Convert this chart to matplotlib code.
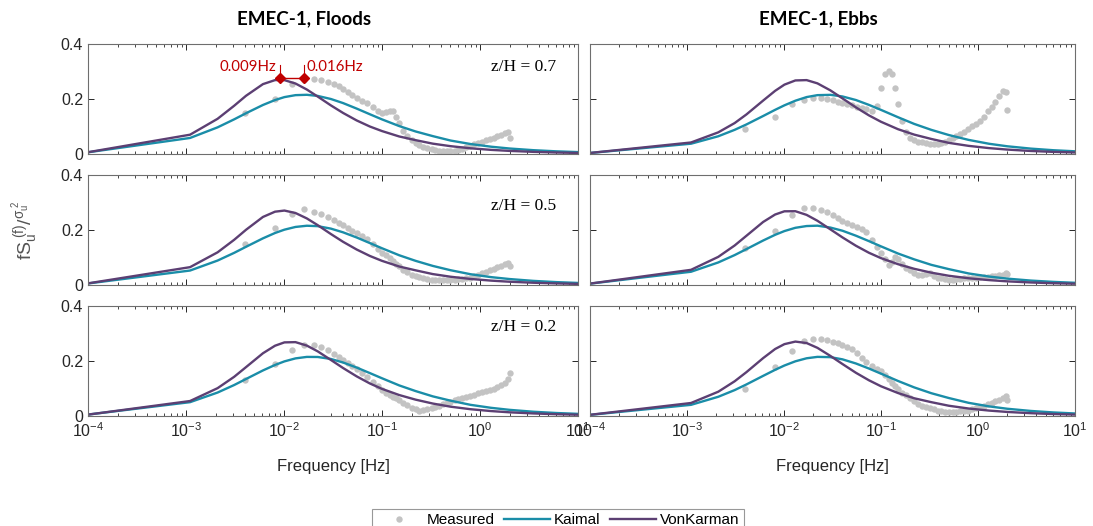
import matplotlib
matplotlib.use("Agg")
import matplotlib.pyplot as plt
from matplotlib.ticker import LogLocator, NullFormatter

plt.rcParams['font.family'] = ['Liberation Sans', 'DejaVu Sans']
plt.rcParams['mathtext.fontset'] = 'custom'
plt.rcParams['mathtext.rm'] = 'Liberation Sans'
plt.rcParams['mathtext.it'] = 'Liberation Sans:italic'

# frequency grid of the model spectra (Hz)
f_model = [1e-4, 1.1e-3, 2.1e-3, 3.1e-3, 4.1e-3, 6.1e-3, 8.1e-3, 0.0101, 0.0131,
           0.0171, 0.0221, 0.0301, 0.0401, 0.0551, 0.0751, 0.1, 0.15, 0.22, 0.33,
           0.5, 0.8, 1.3, 2.0, 3.5, 6.0, 10.0]

# Von Karman fits
vk_flood_07 = [0.0065, 0.0702, 0.128, 0.1754, 0.2118, 0.2541, 0.2687, 0.2686, 0.2563,
               0.2344, 0.2088, 0.1767, 0.1492, 0.1221, 0.1000, 0.0834, 0.0637, 0.0504,
               0.0376, 0.0285, 0.0208, 0.0150, 0.0113, 0.0078, 0.0054, 0.0039]
vk_flood_05 = [0.0060, 0.0649, 0.1188, 0.1643, 0.2009, 0.2475, 0.2666, 0.2707, 0.2618,
               0.2421, 0.2175, 0.1853, 0.1570, 0.1291, 0.1057, 0.0878, 0.0672, 0.0534,
               0.0397, 0.0301, 0.0220, 0.0159, 0.0119, 0.0082, 0.0057, 0.0041]
vk_flood_02 = [0.0050, 0.0545, 0.1012, 0.1425, 0.1778, 0.2282, 0.2556, 0.2677, 0.2686,
               0.2560, 0.2350, 0.2038, 0.1744, 0.1442, 0.1184, 0.0986, 0.0762, 0.0595,
               0.0453, 0.0339, 0.0247, 0.0179, 0.0134, 0.0093, 0.0065, 0.0046]
vk_ebb_07 = [0.0038, 0.0419, 0.0787, 0.1125, 0.1439, 0.1944, 0.2297, 0.2522, 0.2675,
             0.2687, 0.2569, 0.2313, 0.2021, 0.1696, 0.1404, 0.1172, 0.0901, 0.0705,
             0.0547, 0.0405, 0.0296, 0.0214, 0.0161, 0.0110, 0.0077, 0.0055]
vk_ebb_05 = [0.0051, 0.0552, 0.1023, 0.1437, 0.1790, 0.2293, 0.2563, 0.2680, 0.2683,
             0.2550, 0.2336, 0.2023, 0.1730, 0.1428, 0.1172, 0.0977, 0.0756, 0.0589,
             0.0449, 0.0336, 0.0245, 0.0178, 0.0133, 0.0092, 0.0064, 0.0046]
vk_ebb_02 = [0.0043, 0.0473, 0.0883, 0.1263, 0.1595, 0.2106, 0.2436, 0.2613, 0.2706,
             0.2653, 0.2479, 0.2184, 0.1889, 0.1572, 0.1299, 0.1081, 0.0834, 0.0645,
             0.0503, 0.0373, 0.0272, 0.0197, 0.0148, 0.0102, 0.0071, 0.0051]

# Kaimal fits
ka_flood_07 = [0.0062, 0.0583, 0.0969, 0.1260, 0.1483, 0.1783, 0.1962, 0.2069, 0.2140,
               0.2153, 0.2112, 0.2000, 0.1851, 0.1652, 0.1446, 0.1259, 0.1015, 0.0820,
               0.0650, 0.0490, 0.0363, 0.0265, 0.0200, 0.0139, 0.0097, 0.0069]
ka_flood_05 = [0.0055, 0.0526, 0.0889, 0.1169, 0.1390, 0.1697, 0.1891, 0.2012, 0.2111,
               0.2155, 0.2140, 0.2050, 0.1915, 0.1728, 0.1525, 0.1336, 0.1081, 0.0879,
               0.0694, 0.0538, 0.0392, 0.0286, 0.0217, 0.0150, 0.0105, 0.0075]
ka_flood_02 = [0.0052, 0.0503, 0.0853, 0.1126, 0.1346, 0.1657, 0.1856, 0.1986, 0.2095,
               0.2149, 0.2146, 0.2074, 0.1945, 0.1762, 0.1561, 0.1372, 0.1112, 0.0907,
               0.0714, 0.0558, 0.0406, 0.0297, 0.0224, 0.0155, 0.0109, 0.0078]
ka_ebb_07 = [0.0037, 0.0374, 0.0645, 0.0879, 0.1075, 0.1382, 0.1606, 0.1770, 0.1938,
             0.2070, 0.2140, 0.2151, 0.2092, 0.1963, 0.1786, 0.1604, 0.1336, 0.1094,
             0.0878, 0.0690, 0.0513, 0.0372, 0.0281, 0.0196, 0.0137, 0.0098]
ka_ebb_05 = [0.0049, 0.0482, 0.0820, 0.1088, 0.1305, 0.1618, 0.1825, 0.1961, 0.2080,
             0.2144, 0.2157, 0.2088, 0.1973, 0.1793, 0.1595, 0.1405, 0.1144, 0.0932,
             0.0733, 0.0577, 0.0420, 0.0307, 0.0232, 0.0161, 0.0113, 0.0080]
ka_ebb_02 = [0.0041, 0.0406, 0.0699, 0.0942, 0.1148, 0.1460, 0.1679, 0.1836, 0.1989,
             0.2099, 0.2150, 0.2140, 0.2060, 0.1910, 0.1726, 0.1540, 0.1273, 0.1040,
             0.0829, 0.0654, 0.0479, 0.0350, 0.0264, 0.0184, 0.0129, 0.0092]

# measured spectra
f_meas = [0.004, 0.008, 0.012, 0.016, 0.020, 0.024, 0.028, 0.032, 0.036, 0.040,
          0.045, 0.050, 0.056, 0.063, 0.070, 0.080, 0.090, 0.100, 0.110, 0.120,
          0.130, 0.140, 0.150, 0.165, 0.180, 0.200, 0.220, 0.240, 0.265, 0.290,
          0.320, 0.350, 0.385, 0.420, 0.460, 0.500, 0.550, 0.600, 0.660, 0.720,
          0.790, 0.870, 0.950, 1.050, 1.150, 1.260, 1.380, 1.500, 1.650, 1.800,
          1.950, 2.000]
meas_flood_07 = [0.150, 0.200, 0.255, 0.270, 0.272, 0.268, 0.262, 0.255, 0.246, 0.237,
                 0.226, 0.216, 0.205, 0.194, 0.184, 0.170, 0.157, 0.148, 0.152, 0.158,
                 0.155, 0.135, 0.112, 0.085, 0.066, 0.050, 0.040, 0.032, 0.026, 0.021,
                 0.018, 0.015, 0.012, 0.010, 0.010, 0.011, 0.012, 0.015, 0.020, 0.025,
                 0.030, 0.035, 0.040, 0.045, 0.050, 0.055, 0.060, 0.065, 0.070, 0.075,
                 0.080, 0.060]
meas_flood_05 = [0.150, 0.206, 0.260, 0.275, 0.265, 0.260, 0.248, 0.236, 0.227, 0.218,
                 0.208, 0.198, 0.188, 0.178, 0.168, 0.150, 0.132, 0.118, 0.108, 0.098,
                 0.088, 0.078, 0.068, 0.055, 0.046, 0.038, 0.032, 0.028, 0.024, 0.022,
                 0.020, 0.019, 0.018, 0.018, 0.018, 0.019, 0.020, 0.021, 0.022, 0.024,
                 0.027, 0.031, 0.036, 0.042, 0.048, 0.054, 0.060, 0.065, 0.070, 0.075,
                 0.080, 0.068]
meas_flood_02 = [0.130, 0.190, 0.240, 0.260, 0.260, 0.250, 0.240, 0.227, 0.215, 0.205,
                 0.192, 0.182, 0.170, 0.155, 0.142, 0.125, 0.110, 0.095, 0.085, 0.077,
                 0.070, 0.064, 0.058, 0.048, 0.040, 0.030, 0.024, 0.020, 0.022, 0.026,
                 0.030, 0.034, 0.038, 0.042, 0.047, 0.052, 0.057, 0.062, 0.066, 0.070,
                 0.074, 0.078, 0.082, 0.086, 0.090, 0.095, 0.100, 0.106, 0.112, 0.120,
                 0.135, 0.155]
meas_ebb_07 = [0.090, 0.135, 0.180, 0.195, 0.204, 0.203, 0.200, 0.195, 0.190, 0.186,
               0.181, 0.177, 0.172, 0.168, 0.163, 0.157, 0.175, 0.240, 0.290, 0.300,
               0.290, 0.240, 0.180, 0.120, 0.080, 0.060, 0.050, 0.045, 0.042, 0.040,
               0.038, 0.036, 0.037, 0.040, 0.045, 0.050, 0.058, 0.065, 0.072, 0.080,
               0.090, 0.100, 0.110, 0.120, 0.135, 0.155, 0.170, 0.190, 0.210, 0.230,
               0.225, 0.160]
meas_ebb_05 = [0.133, 0.198, 0.255, 0.279, 0.281, 0.273, 0.264, 0.255, 0.242, 0.234,
               0.226, 0.218, 0.210, 0.202, 0.194, 0.164, 0.138, 0.115, 0.095, 0.073,
               0.085, 0.103, 0.095, 0.075, 0.062, 0.055, 0.045, 0.038, 0.036, 0.040,
               0.042, 0.034, 0.027, 0.024, 0.022, 0.020, 0.020, 0.021, 0.023, 0.024,
               0.025, 0.026, 0.027, 0.028, 0.029, 0.030, 0.032, 0.033, 0.035, 0.038,
               0.042, 0.040]
meas_ebb_02 = [0.100, 0.180, 0.236, 0.273, 0.279, 0.279, 0.275, 0.270, 0.264, 0.257,
               0.250, 0.242, 0.228, 0.212, 0.198, 0.182, 0.172, 0.164, 0.148, 0.133,
               0.120, 0.108, 0.097, 0.085, 0.075, 0.067, 0.055, 0.045, 0.038, 0.031,
               0.028, 0.024, 0.020, 0.018, 0.016, 0.015, 0.015, 0.016, 0.017, 0.018,
               0.020, 0.024, 0.028, 0.032, 0.037, 0.042, 0.047, 0.053, 0.060, 0.067,
               0.073, 0.060]

heights = ['z/H = 0.7', 'z/H = 0.5', 'z/H = 0.2']
col_titles = ['EMEC-1, Floods', 'EMEC-1, Ebbs']
yticks = [0, 0.2, 0.4]
ytick_labels = ['0', '0.2', '0.4']

meas = [[meas_flood_07, meas_ebb_07], [meas_flood_05, meas_ebb_05], [meas_flood_02, meas_ebb_02]]
kaimal = [[ka_flood_07, ka_ebb_07], [ka_flood_05, ka_ebb_05], [ka_flood_02, ka_ebb_02]]
vonk = [[vk_flood_07, vk_ebb_07], [vk_flood_05, vk_ebb_05], [vk_flood_02, vk_ebb_02]]

c_meas = '#c3c3c3'
c_kai = '#1a8da8'
c_vk = '#5c3f73'
c_red = '#c00000'

W, H = 1093, 526
fig = plt.figure(figsize=(W / 100, H / 100), dpi=100)

col_x = [(88, 578), (590, 1075)]
row_y = [(44, 154), (175, 285), (306, 416)]
zh_y = [0.79, 0.72, 0.81]

for r in range(3):
    for c in range(2):
        x0, x1 = col_x[c]
        y0, y1 = row_y[r]
        ax = fig.add_axes([x0 / W, 1 - y1 / H, (x1 - x0) / W, (y1 - y0) / H])
        ax.plot(f_meas, meas[r][c], 'o', color=c_meas, ms=4.6, mec='none', label='Measured')
        ax.plot(f_model, kaimal[r][c], color=c_kai, lw=1.7, label='Kaimal')
        ax.plot(f_model, vonk[r][c], color=c_vk, lw=1.7, label='VonKarman')
        ax.set_xscale('log')
        ax.set_xlim(1e-4, 10)
        ax.set_ylim(0, 0.4)
        ax.set_yticks(yticks)
        ax.xaxis.set_major_locator(LogLocator(base=10, numticks=10))
        ax.xaxis.set_minor_locator(LogLocator(base=10, subs=range(2, 10), numticks=10))
        ax.xaxis.set_minor_formatter(NullFormatter())
        ax.tick_params(which='both', direction='in', top=True, right=True,
                       labelsize=11.5, colors='#262626')
        ax.tick_params(which='major', length=4, width=0.7)
        ax.tick_params(which='minor', length=2, width=0.6)
        for s in ax.spines.values():
            s.set_color('#6e6e6e')
            s.set_linewidth(0.8)
        if c == 0:
            ax.set_yticklabels(ytick_labels)
            ax.text(0.955, zh_y[r], heights[r], transform=ax.transAxes, ha='right',
                    va='center', fontsize=12.5, family='Liberation Serif')
        else:
            ax.set_yticklabels([])
        if r < 2:
            ax.set_xticklabels([])
        else:
            ax.set_xlabel('Frequency [Hz]', fontsize=12, labelpad=14, color='#262626')
        if r == 0:
            ax.set_title(col_titles[c], fontsize=13.5, fontweight='bold',
                         family='Lato', pad=14, x=0.44 if c == 0 else 0.47)
        if r == 0 and c == 0:
            # peak frequency markers
            pk = [0.009, 0.016]
            ax.plot(pk, [0.275, 0.275], color=c_red, lw=1, marker='D', ms=5)
            ax.plot([pk[0], pk[0]], [0.275, 0.325], color=c_red, lw=0.8)
            ax.plot([pk[1], pk[1]], [0.275, 0.325], color=c_red, lw=0.8)
            ax.text(pk[0] * 0.92, 0.315, '0.009Hz', color=c_red, fontsize=10.8,
                    family='Lato', ha='right', va='center')
            ax.text(pk[1] * 1.06, 0.315, '0.016Hz', color=c_red, fontsize=10.8,
                    family='Lato', ha='left', va='center')
        if r == 2 and c == 0:
            handles, labels = ax.get_legend_handles_labels()

fig.text(0.024, 1 - 230 / H, r'$\mathregular{fS_{u}^{\ (f)}/^{\sigma_{u}^{\ 2}}}$',
         rotation=90, ha='center', va='center', fontsize=14, color='#555555')

leg = fig.legend(handles, labels, loc='upper center', ncol=3,
                 bbox_to_anchor=(0.5105, 1 - 501 / H), frameon=True, fancybox=False,
                 fontsize=11, handlelength=3.0, columnspacing=0.6, handletextpad=0.3,
                 borderpad=0.3)
leg.get_frame().set_edgecolor('#7f7f7f')
leg.get_frame().set_linewidth(0.8)

fig.savefig('out.png', dpi=100)
